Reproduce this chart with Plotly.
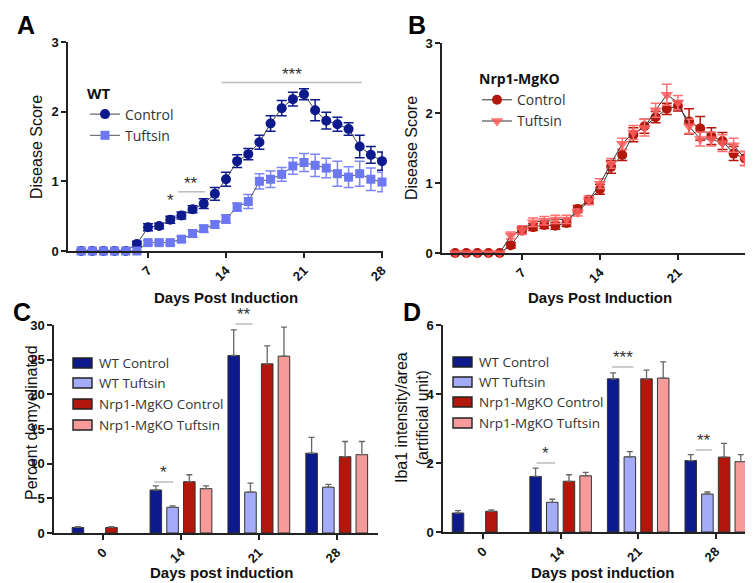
import plotly.graph_objects as go

# ---------------- data ----------------
days = list(range(1, 29))

wt_control = [0, 0, 0, 0, 0, 0.10, 0.34, 0.36, 0.45, 0.51, 0.60, 0.68, 0.82, 1.03,
              1.29, 1.39, 1.56, 1.83, 2.05, 2.18, 2.25, 2.02, 1.87, 1.82, 1.75, 1.50, 1.38, 1.29]
wt_control_err = [0, 0, 0, 0, 0, 0.04, 0.05, 0.04, 0.05, 0.05, 0.05, 0.07, 0.09, 0.10,
                  0.09, 0.08, 0.10, 0.11, 0.11, 0.10, 0.08, 0.15, 0.12, 0.10, 0.09, 0.16, 0.12, 0.13]
wt_tuftsin = [0, 0, 0, 0, 0, 0, 0.12, 0.12, 0.12, 0.17, 0.25, 0.32, 0.38, 0.46,
              0.63, 0.71, 1.00, 1.03, 1.10, 1.22, 1.27, 1.23, 1.19, 1.11, 1.06, 1.11, 1.03, 0.99]
wt_tuftsin_err = [0, 0, 0, 0, 0, 0, 0.03, 0.03, 0.03, 0.04, 0.05, 0.05, 0.05, 0.06,
                  0.06, 0.10, 0.11, 0.12, 0.10, 0.12, 0.13, 0.16, 0.14, 0.18, 0.15, 0.18, 0.16, 0.14]

ko_control = [0, 0, 0, 0, 0, 0.11, 0.32, 0.37, 0.40, 0.39, 0.43, 0.63, 0.76, 0.91,
              1.23, 1.40, 1.69, 1.81, 1.94, 2.06, 2.10, 1.88, 1.78, 1.67, 1.60, 1.42, 1.35, 1.20]
ko_control_err = [0, 0, 0, 0, 0, 0.04, 0.05, 0.05, 0.05, 0.05, 0.05, 0.05, 0.05, 0.07,
                  0.09, 0.08, 0.10, 0.10, 0.08, 0.08, 0.07, 0.18, 0.17, 0.12, 0.12, 0.10, 0.10, 0.10]
ko_tuftsin = [0, 0, 0, 0, 0, 0.25, 0.33, 0.44, 0.46, 0.48, 0.48, 0.58, 0.75, 0.99,
              1.28, 1.56, 1.72, 1.79, 2.04, 2.26, 2.15, 1.81, 1.63, 1.63, 1.57, 1.54, 1.35, 1.10]
ko_tuftsin_err = [0, 0, 0, 0, 0, 0.05, 0.06, 0.06, 0.06, 0.06, 0.06, 0.05, 0.06, 0.07,
                  0.07, 0.08, 0.10, 0.12, 0.10, 0.15, 0.10, 0.10, 0.10, 0.10, 0.12, 0.10, 0.10, 0.10]

line_ticks = [7, 14, 21, 28]

bar_days = ["0", "14", "21", "28"]
bar_series = ["WT Control", "WT Tuftsin", "Nrp1-MgKO Control", "Nrp1-MgKO Tuftsin"]

demyel_wt_control = [0.8, 6.2, 25.6, 11.5]
demyel_wt_control_err = [0.1, 0.6, 3.7, 2.3]
demyel_wt_tuftsin = [None, 3.7, 5.9, 6.6]
demyel_wt_tuftsin_err = [0, 0.2, 1.3, 0.4]
demyel_ko_control = [0.8, 7.4, 24.4, 11.0]
demyel_ko_control_err = [0.1, 1.0, 2.6, 2.2]
demyel_ko_tuftsin = [None, 6.4, 25.5, 11.3]
demyel_ko_tuftsin_err = [0, 0.4, 4.2, 1.9]

iba_wt_control = [0.55, 1.61, 4.44, 2.07]
iba_wt_control_err = [0.07, 0.24, 0.17, 0.17]
iba_wt_tuftsin = [None, 0.86, 2.18, 1.10]
iba_wt_tuftsin_err = [0, 0.09, 0.15, 0.06]
iba_ko_control = [0.60, 1.47, 4.44, 2.17]
iba_ko_control_err = [0.04, 0.19, 0.25, 0.40]
iba_ko_tuftsin = [None, 1.63, 4.46, 2.04]
iba_ko_tuftsin_err = [0, 0.10, 0.47, 0.20]

# ---------------- style ----------------
PAGE_W, PAGE_H = 753, 583
OFF = 8                       # default page margin around the figure
W, H = PAGE_W - OFF, PAGE_H - OFF
C_WT = "#0D1A8C"
C_WT_T_MK = "#6C77F2"
C_WT_T_BAR = "#A4ABF8"
C_KO = "#B3160B"
C_KO_T_MK = "#FF5A5A"
C_KO_T_BAR = "#F79A9A"
bar_colors = [C_WT, C_WT_T_BAR, C_KO, C_KO_T_BAR]

AX_FONT = "Liberation Sans, Arial, sans-serif"
LEG_FONT = "Open Sans, sans-serif"
tickfont = dict(family=AX_FONT, size=13, color="#111", weight="bold")


def fx(p):
    return (p - OFF) / W


def fy(p):
    return 1 - (p - OFF) / H


fig = go.Figure()

# ---------- panel A ----------
fig.add_trace(go.Scatter(
    x=days, y=wt_control, name="Control", mode="lines+markers",
    line=dict(color="#444", width=1),
    marker=dict(symbol="circle", size=10, color=C_WT),
    error_y=dict(type="data", array=wt_control_err, color=C_WT, thickness=1.5, width=5),
    xaxis="x", yaxis="y", legend="legend", cliponaxis=False))
fig.add_trace(go.Scatter(
    x=days, y=wt_tuftsin, name="Tuftsin", mode="lines+markers",
    line=dict(color="#555", width=1),
    marker=dict(symbol="square", size=9, color=C_WT_T_MK),
    error_y=dict(type="data", array=wt_tuftsin_err, color="#7E86F5", thickness=1.5, width=5),
    xaxis="x", yaxis="y", legend="legend", cliponaxis=False))

# ---------- panel B ----------
fig.add_trace(go.Scatter(
    x=days, y=ko_control, name="Control", mode="lines+markers",
    line=dict(color="#333", width=1),
    marker=dict(symbol="circle", size=10, color=C_KO),
    error_y=dict(type="data", array=ko_control_err, color=C_KO, thickness=1.5, width=5),
    xaxis="x2", yaxis="y2", legend="legend2", cliponaxis=False))
fig.add_trace(go.Scatter(
    x=days, y=ko_tuftsin, name="Tuftsin", mode="lines+markers",
    line=dict(color="#333", width=1),
    marker=dict(symbol="triangle-down", size=11, color=C_KO_T_MK, opacity=0.85),
    error_y=dict(type="data", array=ko_tuftsin_err, color="#FF7070", thickness=1.5, width=5),
    xaxis="x2", yaxis="y2", legend="legend2", cliponaxis=False))

# ---------- panels C and D (bars) ----------
c_vals = [demyel_wt_control, demyel_wt_tuftsin, demyel_ko_control, demyel_ko_tuftsin]
c_errs = [demyel_wt_control_err, demyel_wt_tuftsin_err, demyel_ko_control_err, demyel_ko_tuftsin_err]
d_vals = [iba_wt_control, iba_wt_tuftsin, iba_ko_control, iba_ko_tuftsin]
d_errs = [iba_wt_control_err, iba_wt_tuftsin_err, iba_ko_control_err, iba_ko_tuftsin_err]

for name, col, v, e in zip(bar_series, bar_colors, c_vals, c_errs):
    fig.add_trace(go.Bar(
        x=bar_days, y=v, name=name, showlegend=False,
        marker=dict(color=col, line=dict(color="#333", width=1)),
        error_y=dict(type="data", symmetric=False, array=e, arrayminus=[0] * len(e),
                     color="#666", thickness=1.3, width=3),
        xaxis="x3", yaxis="y3"))
for name, col, v, e in zip(bar_series, bar_colors, d_vals, d_errs):
    fig.add_trace(go.Bar(
        x=bar_days, y=v, name=name, showlegend=False,
        marker=dict(color=col, line=dict(color="#333", width=1)),
        error_y=dict(type="data", symmetric=False, array=e, arrayminus=[0] * len(e),
                     color="#666", thickness=1.3, width=3),
        xaxis="x4", yaxis="y4"))

axis_common = dict(showline=True, linecolor="#222", linewidth=1.5, showgrid=False,
                   zeroline=False, ticks="outside", ticklen=5, tickwidth=1.5,
                   tickcolor="#222", tickfont=tickfont, automargin=False)

fig.update_layout(
    width=W, height=H,
    margin=dict(l=0, r=0, t=0, b=0, autoexpand=False),
    paper_bgcolor="white", plot_bgcolor="white",
    barmode="group", bargap=0.14, bargroupgap=0.31,
    xaxis=dict(domain=[fx(68), fx(383)], range=[-0.18, 28.09], anchor="y",
               tickvals=line_ticks, tickangle=-45, **axis_common),
    yaxis=dict(domain=[fy(251), fy(42)], range=[0, 3], anchor="x",
               tickvals=[0, 1, 2, 3], **axis_common),
    xaxis2=dict(domain=[fx(442), 1.0], range=[-0.18, 27.74], anchor="y2",
                tickvals=line_ticks, tickangle=-45, **axis_common),
    yaxis2=dict(domain=[fy(253), fy(43)], range=[0, 3], anchor="x2",
                tickvals=[0, 1, 2, 3], **axis_common),
    xaxis3=dict(domain=[fx(54), fx(378)], range=[-0.63, 3.53], anchor="y3",
                type="category", tickangle=-45, **axis_common),
    yaxis3=dict(domain=[fy(533), fy(325)], range=[0, 30], anchor="x3",
                tickvals=[0, 5, 10, 15, 20, 25, 30], **axis_common),
    xaxis4=dict(domain=[fx(443), 1.0], range=[-0.516, 3.48], anchor="y4",
                type="category", tickangle=-45, **axis_common),
    yaxis4=dict(domain=[fy(532), fy(325)], range=[0, 6], anchor="x4",
                tickvals=[0, 2, 4, 6], **axis_common),
    legend=dict(title=dict(text="<b>WT</b>", font=dict(family=LEG_FONT, size=15, color="#111")),
                x=fx(85), y=fy(79), xanchor="left", yanchor="top",
                bgcolor="rgba(0,0,0,0)", font=dict(family=LEG_FONT, size=14, color="#333"),
                itemwidth=30),
    legend2=dict(title=dict(text="<b>Nrp1-MgKO</b>", font=dict(family=LEG_FONT, size=14, color="#111")),
                 x=fx(477), y=fy(66), xanchor="left", yanchor="top",
                 bgcolor="rgba(0,0,0,0)", font=dict(family=LEG_FONT, size=14, color="#333"),
                 itemwidth=30),
)

annotations = []
shapes = []

# panel letters
for letter, x, y in [("A", 26, 25), ("B", 417, 25), ("C", 22, 312), ("D", 412, 312)]:
    annotations.append(dict(text=f"<b>{letter}</b>", x=fx(x), y=fy(y), xref="paper", yref="paper",
                            showarrow=False, font=dict(family=AX_FONT, size=25, color="#000"),
                            xanchor="center", yanchor="middle"))

title_font_b = dict(family=AX_FONT, size=15, color="#111", weight="bold")
title_font_r = dict(family=AX_FONT, size=16, color="#111")

# axis titles
for txt, x, y, ang, f in [
    ("Days Post Induction", 226, 297, 0, title_font_b),
    ("Days Post Induction", 600, 297, 0, title_font_b),
    ("Days post induction", 221, 572, 0, title_font_b),
    ("Days post induction", 602, 572, 0, title_font_b),
    ("Disease Score", 37, 147, -90, title_font_r),
    ("Disease Score", 411, 148, -90, title_font_r),
    ("Percent demyelinated", 31, 423, -90, title_font_r),
    ("Iba1 intensity/area<br>(artificial unit)", 412, 418, -90, title_font_r),
]:
    annotations.append(dict(text=txt, x=fx(x), y=fy(y), xref="paper", yref="paper",
                            showarrow=False, textangle=ang, font=f,
                            xanchor="center", yanchor="middle"))

# manual legends for bar panels
leg_font = dict(family=LEG_FONT, size=13.5, color="#333")
for (bx, tx, ys) in [(73, 97, [363, 383, 404, 425]), (453, 477, [362, 382, 402, 423])]:
    for name, col, yy in zip(bar_series, bar_colors, ys):
        shapes.append(dict(type="rect", xref="paper", yref="paper",
                           x0=fx(bx), x1=fx(bx + 19), y0=fy(yy + 5), y1=fy(yy - 5),
                           fillcolor=col, line=dict(color="#222", width=1.4)))
        annotations.append(dict(text=name, x=fx(tx), y=fy(yy), xref="paper", yref="paper",
                                showarrow=False, font=leg_font, xanchor="left", yanchor="middle"))

# significance markers
sig_line = dict(color="#BDBDBD", width=1.5)
star_font = dict(family=AX_FONT, size=17, color="#333")
# panel A
shapes.append(dict(type="line", xref="x", yref="y", x0=9.7, x1=12.1, y0=0.85, y1=0.85, line=sig_line))
shapes.append(dict(type="line", xref="x", yref="y", x0=13.6, x1=26.2, y0=2.42, y1=2.42, line=sig_line))
annotations.append(dict(text="*", x=9, y=0.56, xref="x", yref="y", showarrow=False,
                        font=star_font, yanchor="bottom"))
annotations.append(dict(text="**", x=10.9, y=0.80, xref="x", yref="y", showarrow=False,
                        font=star_font, yanchor="bottom"))
annotations.append(dict(text="***", x=19.9, y=2.37, xref="x", yref="y", showarrow=False,
                        font=star_font, yanchor="bottom"))
# panel C
shapes.append(dict(type="line", xref="x3", yref="paper", x0=0.656, x1=0.90, y0=fy(482), y1=fy(482), line=sig_line))
shapes.append(dict(type="line", xref="x3", yref="paper", x0=1.70, x1=1.92, y0=fy(324), y1=fy(324), line=sig_line))
annotations.append(dict(text="*", x=0.78, y=fy(484), xref="x3", yref="paper", showarrow=False,
                        font=star_font, yanchor="bottom"))
annotations.append(dict(text="**", x=1.81, y=fy(326), xref="x3", yref="paper", showarrow=False,
                        font=star_font, yanchor="bottom"))
# panel D
shapes.append(dict(type="line", xref="x4", yref="paper", x0=0.69, x1=0.93, y0=fy(463), y1=fy(463), line=sig_line))
shapes.append(dict(type="line", xref="x4", yref="paper", x0=1.66, x1=1.94, y0=fy(367), y1=fy(367), line=sig_line))
shapes.append(dict(type="line", xref="x4", yref="paper", x0=2.74, x1=2.95, y0=fy(450), y1=fy(450), line=sig_line))
annotations.append(dict(text="*", x=0.81, y=fy(465), xref="x4", yref="paper", showarrow=False,
                        font=star_font, yanchor="bottom"))
annotations.append(dict(text="***", x=1.80, y=fy(369), xref="x4", yref="paper", showarrow=False,
                        font=star_font, yanchor="bottom"))
annotations.append(dict(text="**", x=2.845, y=fy(452), xref="x4", yref="paper", showarrow=False,
                        font=star_font, yanchor="bottom"))

fig.update_layout(annotations=annotations, shapes=shapes)

fig.write_html("out.html")
